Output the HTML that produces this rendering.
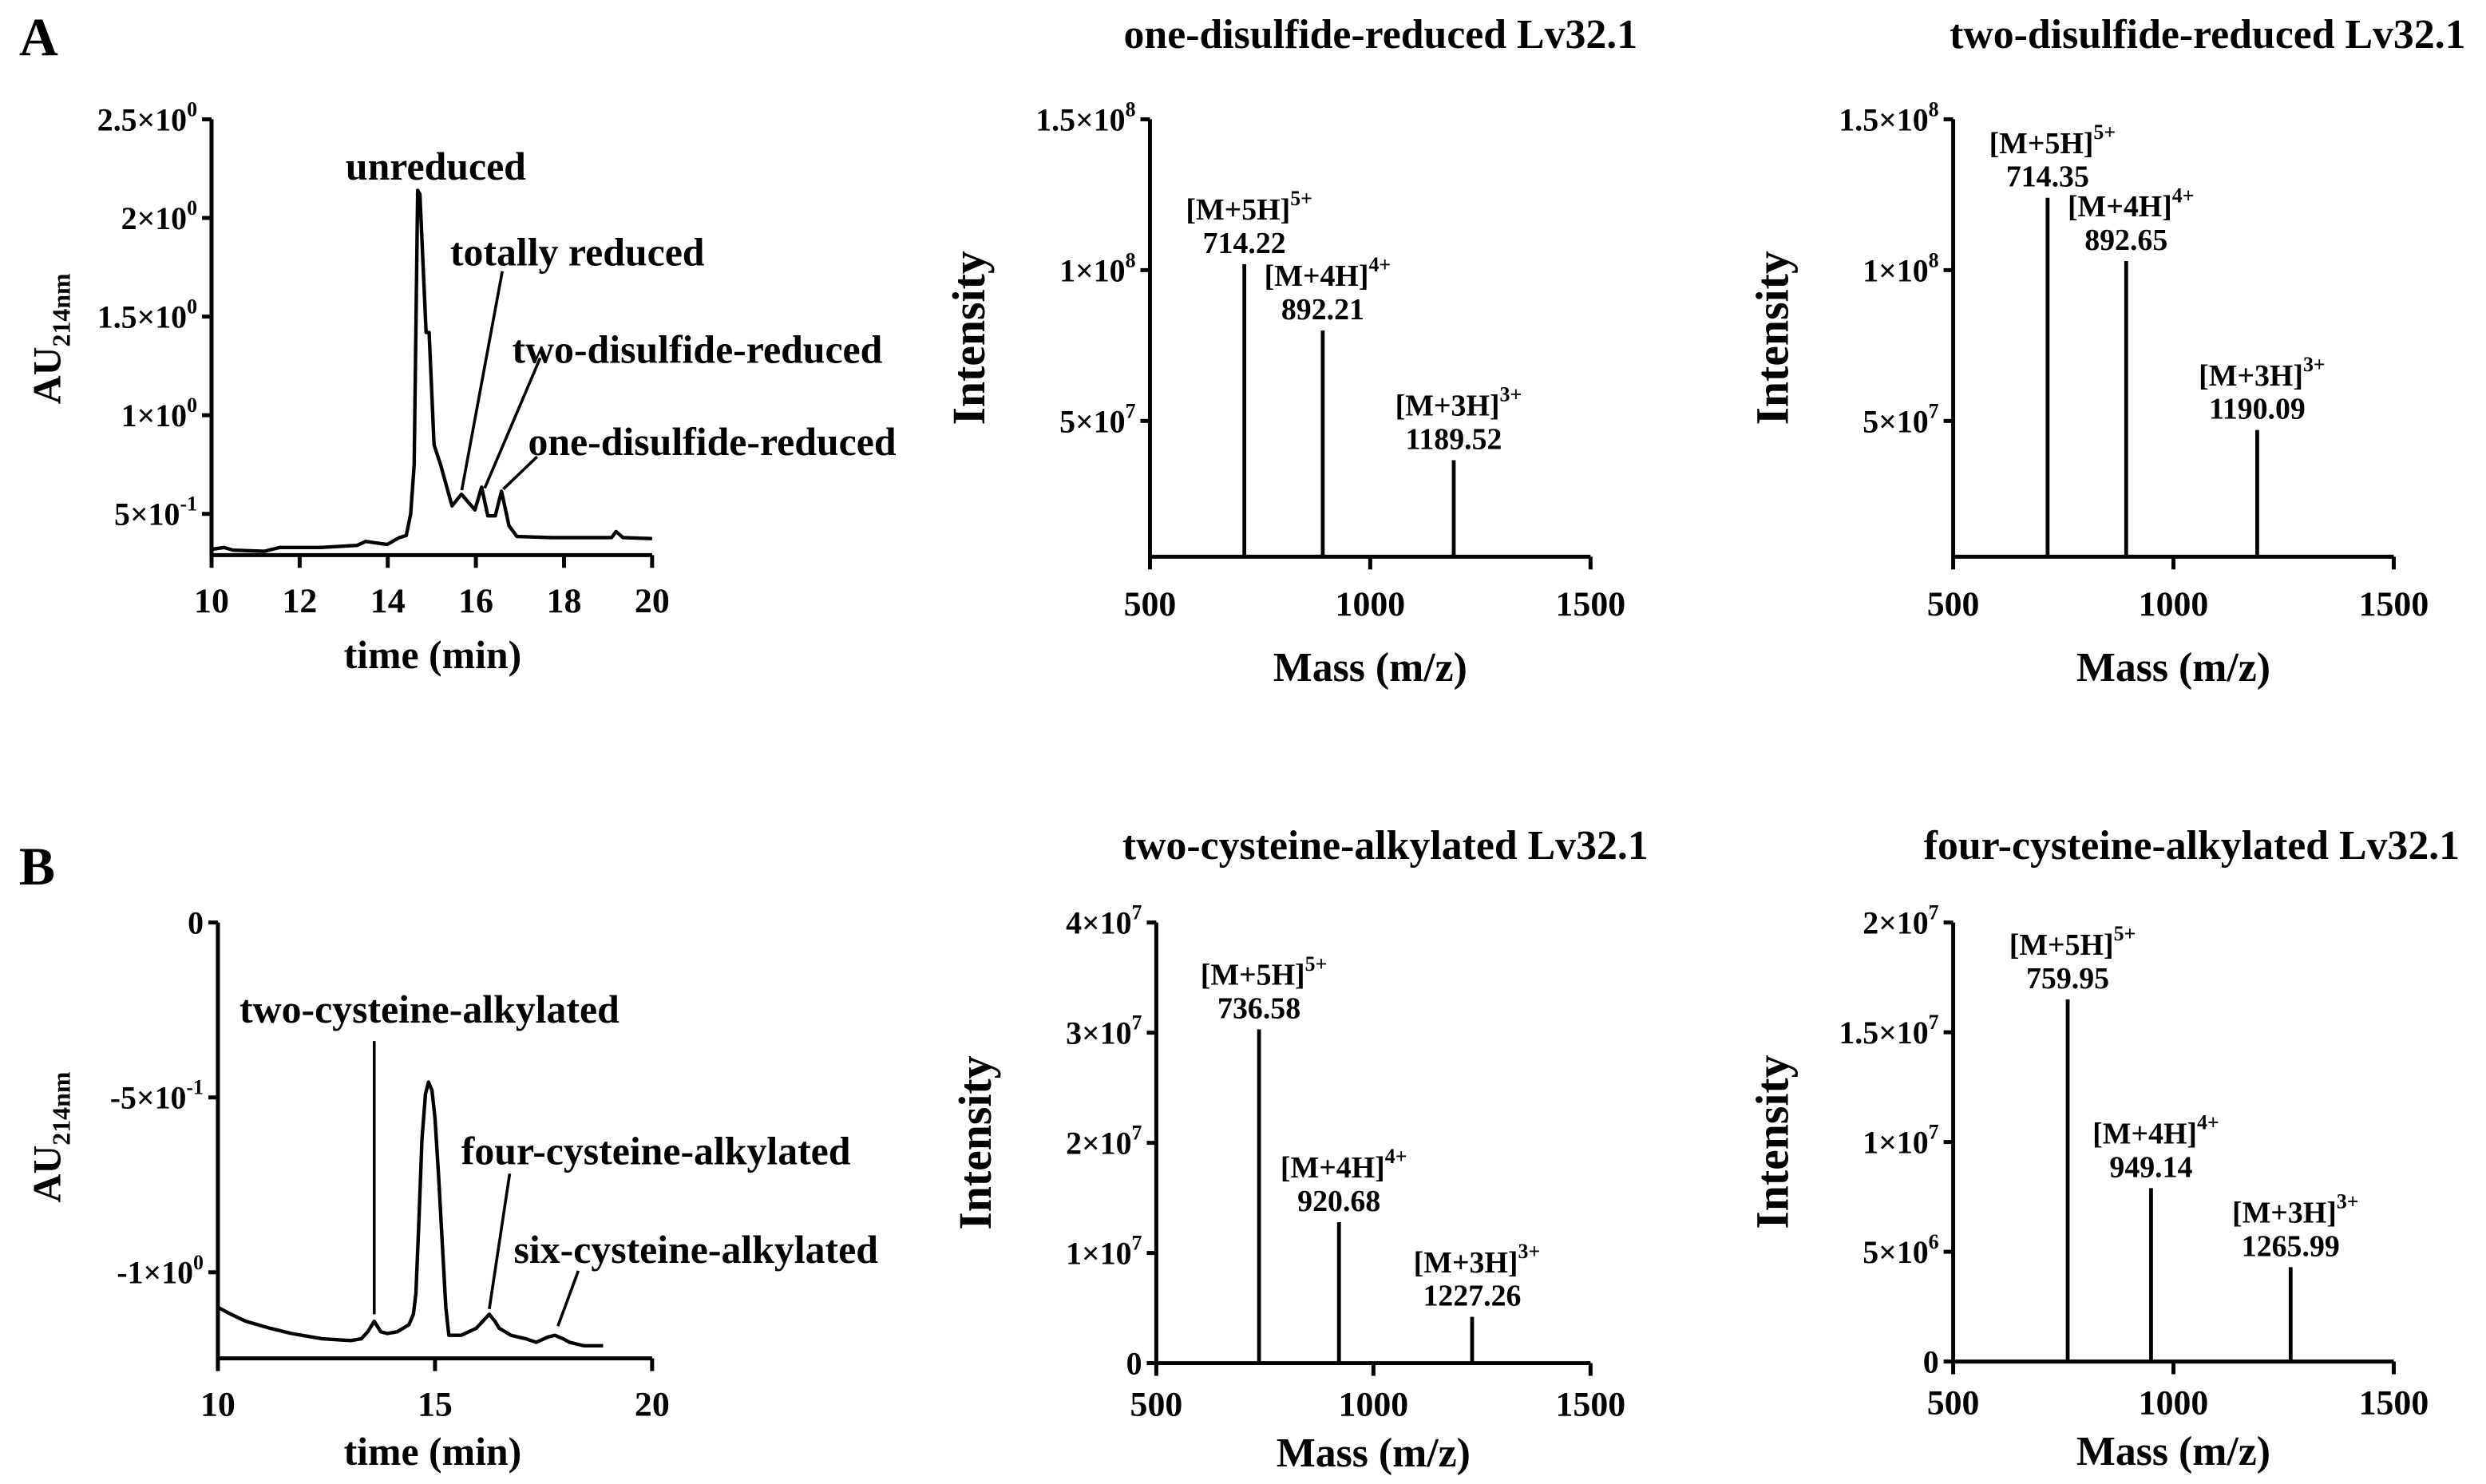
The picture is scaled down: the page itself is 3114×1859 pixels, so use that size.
<!DOCTYPE html>
<html><head><meta charset="utf-8"><style>
html,body{margin:0;padding:0;background:#fff;}
svg{display:block;}
text{font-family:"Liberation Serif",serif;font-weight:bold;fill:#000;}
</style></head><body>
<svg id="fig" xmlns="http://www.w3.org/2000/svg" width="3114" height="1859" viewBox="0 0 1563 933" preserveAspectRatio="none">
<rect width="1563" height="933" fill="#fff"/>
<text x="12" y="35" font-size="34">A</text>
<text x="12" y="556" font-size="34">B</text>
</svg>
<script>
// ---------- Chromatogram A ----------
var chromA_time = [10,10.28,10.49,11.2,11.54,12.48,13.3,13.5,13.99,14.26,14.42,14.52,14.6,14.68,14.73,14.87,14.94,15.05,15.2,15.46,15.67,15.98,16.13,16.27,16.44,16.58,16.75,16.93,17.72,19.08,19.18,19.34,20];
var chromA_au = [0.32,0.33,0.316,0.31,0.33,0.33,0.34,0.36,0.345,0.38,0.39,0.5,0.75,2.14,2.12,1.42,1.42,0.85,0.75,0.54,0.6,0.52,0.635,0.49,0.49,0.615,0.44,0.385,0.38,0.38,0.41,0.38,0.375];
var chromA_yticks = [2.5,2.0,1.5,1.0,0.5];
var chromA_ytickMant = ["2.5","2","1.5","1","5"];
var chromA_ytickExp = ["0","0","0","0","-1"];
var chromA_xticks = [10,12,14,16,18,20];
// ---------- Chromatogram B ----------
var chromB_time = [10,10.3,10.64,11.2,11.7,12.4,13.06,13.3,13.45,13.6,13.75,13.9,14.13,14.4,14.5,14.56,14.63,14.7,14.78,14.85,14.93,15.0,15.08,15.17,15.25,15.32,15.6,15.95,16.1,16.25,16.38,16.48,16.75,17.09,17.33,17.6,17.76,17.95,18.1,18.43,18.87];
var chromB_au = [-1.10,-1.12,-1.14,-1.16,-1.175,-1.19,-1.195,-1.19,-1.17,-1.14,-1.17,-1.175,-1.17,-1.15,-1.12,-1.06,-0.85,-0.62,-0.49,-0.456,-0.48,-0.56,-0.72,-0.92,-1.1,-1.18,-1.18,-1.16,-1.14,-1.12,-1.14,-1.16,-1.18,-1.19,-1.2,-1.185,-1.18,-1.19,-1.2,-1.21,-1.21];
var chromB_yticks = [0,-0.5,-1.0];
var chromB_ytickMant = ["0","-5","-1"];
var chromB_ytickExp = ["","-1","0"];
var chromB_xticks = [10,15,20];
// ---------- Mass spectra ----------
var msA1_mz = [714.22,892.21,1189.52];
var msA1_int = [1.02e8,0.80e8,0.37e8];
var msA2_mz = [714.35,892.65,1190.09];
var msA2_int = [1.24e8,1.03e8,0.47e8];
var msB1_mz = [736.58,920.68,1227.26];
var msB1_int = [3.03e7,1.28e7,0.42e7];
var msB2_mz = [759.95,949.14,1265.99];
var msB2_int = [1.65e7,0.79e7,0.43e7];
var ms_ions = ["[M+5H]","[M+4H]","[M+3H]"];
var ms_charges = ["5+","4+","3+"];
var ms_xticks = [500,1000,1500];
var msA_yticks = [1.5e8,1e8,5e7];
var msA_ytickMant = ["1.5","1","5"];
var msA_ytickExp = ["8","8","7"];
var msB1_yticks = [4e7,3e7,2e7,1e7,0];
var msB1_ytickMant = ["4","3","2","1","0"];
var msB1_ytickExp = ["7","7","7","7",""];
var msB2_yticks = [2e7,1.5e7,1e7,5e6,0];
var msB2_ytickMant = ["2","1.5","1","5","0"];
var msB2_ytickExp = ["7","7","7","6",""];

var NS = "http://www.w3.org/2000/svg";
var svg = document.getElementById('fig');
function mk(tag, attrs, parent){var e=document.createElementNS(NS,tag);for(var k in attrs)e.setAttribute(k,attrs[k]);(parent||svg).appendChild(e);return e;}
function scale(d0,d1,r0,r1){return function(v){return r0+(v-d0)*(r1-r0)/(d1-d0);};}

function axes(g, X, Y, x0,x1,y0,y1, xticks, yticks, mant, exp, fs, tickOff){
  var ax=mk('line',{x1:X(x0),y1:Y(y0),x2:X(x0),y2:Y(y1),stroke:'#000','stroke-width':2.5},g);
  
  
  var bx=mk('line',{x1:X(x0)-1,y1:Y(y0),x2:X(x1),y2:Y(y0),stroke:'#000','stroke-width':2.5},g);
  
  
  xticks.forEach(function(t){
    var l=mk('line',{x1:X(t),y1:Y(y0),x2:X(t),y2:Y(y0)+8,stroke:'#000','stroke-width':2.5},g);
    
    
    var tx=mk('text',{x:X(t),y:Y(y0)+tickOff,'font-size':22,'text-anchor':'middle'},g);
    tx.textContent=t;
    
    
  });
  yticks.forEach(function(t,i){
    var l=mk('line',{x1:X(x0)-6,y1:Y(t),x2:X(x0),y2:Y(t),stroke:'#000','stroke-width':2.5},g);
    
    
    var tx=mk('text',{x:X(x0)-9,y:Y(t)+7,'font-size':fs,'text-anchor':'end'},g);
    
    
    var m=mant[i];
    if(exp[i]===''){tx.textContent=m;}
    else{
      var a=document.createElementNS(NS,'tspan');a.textContent=m+'\u00d710';tx.appendChild(a);
      var s=document.createElementNS(NS,'tspan');s.setAttribute('dy','-9');s.setAttribute('font-size',fs*0.65);s.textContent=exp[i];tx.appendChild(s);
    }
  });
}
function addText(g,x,y,str,fs,name,anchor,rot){
  var t=mk('text',{x:x,y:y,'font-size':fs,'text-anchor':anchor||'middle'},g);
  if(rot)t.setAttribute('transform','rotate(-90 '+x+' '+y+')');
  t.textContent=str;
  
  
  return t;
}
function auLabel(g,x,y){
  var t=mk('text',{x:x,y:y,'font-size':25,'text-anchor':'middle',transform:'rotate(-90 '+x+' '+y+')'},g);
  
  
  var a=document.createElementNS(NS,'tspan');a.textContent='AU';t.appendChild(a);
  var s=document.createElementNS(NS,'tspan');s.setAttribute('dy','6');s.setAttribute('font-size','16');s.textContent='214nm';t.appendChild(s);
}
function trace(g,X,Y,xs,ys,name){
  var d='';xs.forEach(function(v,i){d+=(i?'L':'M')+X(v).toFixed(1)+','+Y(ys[i]).toFixed(1);});
  var p=mk('path',{d:d,fill:'none',stroke:'#000','stroke-width':2.2,'stroke-linejoin':'round'},g);
  
  
}
function pointer(g,x1,y1,x2,y2){
  var l=mk('line',{x1:x1,y1:y1,x2:x2,y2:y2,stroke:'#000','stroke-width':1.8},g);
  
  
}

// ---- Chart A1 ----
(function(){
  var g=mk('g',{});
  var X=scale(10,20,133,410), Y=scale(0.291,2.5,349,75);
  axes(g,X,Y,10,20,0.291,2.5,chromA_xticks,chromA_yticks,chromA_ytickMant,chromA_ytickExp,20,36);
  trace(g,X,Y,chromA_time,chromA_au,'chromatogram-trace');
  auLabel(g,38,213);
  addText(g,272,420,'time (min)',25,'x-axis-title');
  addText(g,274,113,'unreduced',25,'peak-label-unreduced');
  addText(g,363,167,'totally reduced',25,'peak-label-totally-reduced');
  addText(g,322,228,'two-disulfide-reduced',25,'peak-label-two-disulfide','start');
  addText(g,332,286,'one-disulfide-reduced',25,'peak-label-one-disulfide','start');
  pointer(g,X(16.6),Y(1.73),X(15.68),Y(0.62));
  pointer(g,X(17.46),Y(1.29),X(16.2),Y(0.63));
  pointer(g,X(17.39),Y(0.79),X(16.62),Y(0.625));
})();
// ---- Chart B1 ----
(function(){
  var g=mk('g',{});
  var X=scale(10,20,137,410), Y=scale(-1.246,0,854,580);
  axes(g,X,Y,10,20,-1.246,0,chromB_xticks,chromB_yticks,chromB_ytickMant,chromB_ytickExp,20,36);
  trace(g,X,Y,chromB_time,chromB_au,'chromatogram-trace');
  auLabel(g,38,715);
  addText(g,272,921,'time (min)',25,'x-axis-title');
  addText(g,270,643,'two-cysteine-alkylated',25,'peak-label-two-cysteine');
  addText(g,290,732,'four-cysteine-alkylated',25,'peak-label-four-cysteine','start');
  addText(g,323,794,'six-cysteine-alkylated',25,'peak-label-six-cysteine','start');
  pointer(g,X(13.6),Y(-0.339),X(13.6),Y(-1.12));
  pointer(g,X(16.72),Y(-0.718),X(16.25),Y(-1.105));
  pointer(g,X(18.3),Y(-0.996),X(17.83),Y(-1.154));
})();
// ---- Mass spectra ----
function spectrum(name,title,ax,x1,ybot,ytop,ymin,ymax,mz,inten,yt,ym,ye,tx,ty,tickOff,titleOff){
  var g=mk('g',{});
  var X=scale(500,1500,ax,x1), Y=scale(ymin,ymax,ybot,ytop);
  axes(g,X,Y,500,1500,ymin,ymax,ms_xticks,yt,ym,ye,20,tickOff);
  mz.forEach(function(m,i){
    var l=mk('line',{x1:X(m),y1:Y(ymin),x2:X(m),y2:Y(inten[i]),stroke:'#000','stroke-width':2.4},g);
    
    
    var t=mk('text',{x:X(m)+3,y:Y(inten[i])-28,'font-size':19,'text-anchor':'middle','font-weight':'normal'},g);
    
    
    var a=document.createElementNS(NS,'tspan');a.textContent=ms_ions[i];t.appendChild(a);
    var s=document.createElementNS(NS,'tspan');s.setAttribute('dy','-9');s.setAttribute('font-size','13');s.textContent=ms_charges[i];t.appendChild(s);
    addText(g,X(m),Y(inten[i])-7,m.toFixed(2),19,'peak-mz-label');
  });
  addText(g,tx,ty,title,26,'chart-title');
  addText(g,(ax+x1)/2,Y(ymin)+titleOff,'Mass (m/z)',26,'x-axis-title');
  addText(g,ax-104,(ybot+ytop)/2,'Intensity',29,'y-axis-title','middle',true);
}
spectrum('spectrum-one-disulfide','one-disulfide-reduced Lv32.1',723,1000,350,75,0.5e7,1.5e8,msA1_mz,msA1_int,msA_yticks,msA_ytickMant,msA_ytickExp,868,30,37,78);
spectrum('spectrum-two-disulfide','two-disulfide-reduced Lv32.1',1228,1505,350,75,0.5e7,1.5e8,msA2_mz,msA2_int,msA_yticks,msA_ytickMant,msA_ytickExp,1388,30,37,78);
spectrum('spectrum-two-cysteine','two-cysteine-alkylated Lv32.1',727,1000,857,580,0,4e7,msB1_mz,msB1_int,msB1_yticks,msB1_ytickMant,msB1_ytickExp,871,540,33,65);
spectrum('spectrum-four-cysteine','four-cysteine-alkylated Lv32.1',1228,1505,856,580,0,2e7,msB2_mz,msB2_int,msB2_yticks,msB2_ytickMant,msB2_ytickExp,1378,540,33,65);
</script>
</body></html>
